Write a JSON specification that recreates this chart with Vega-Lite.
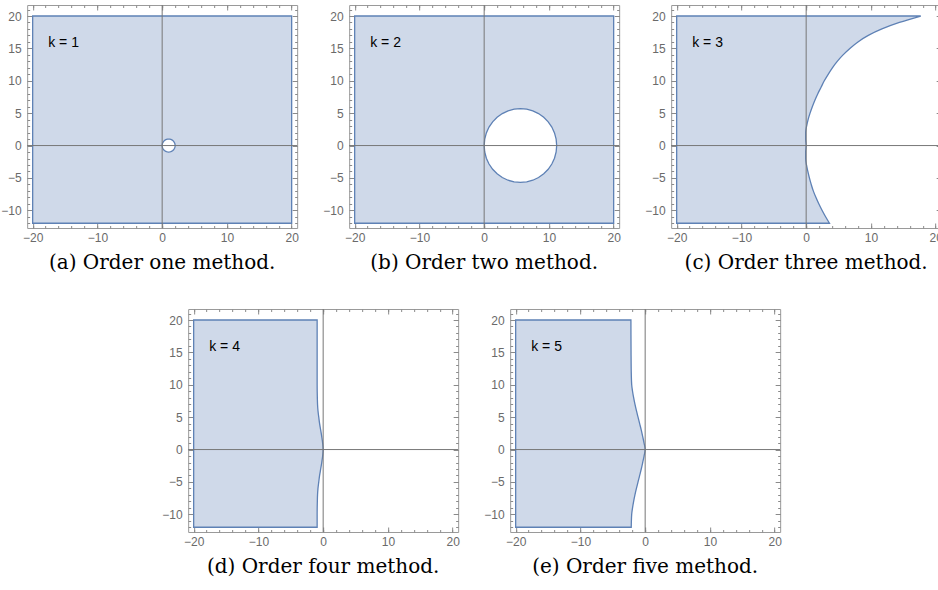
{
"$schema": "https://vega.github.io/schema/vega-lite/v6.json",
"padding": {"left": 0, "top": 4, "right": 0, "bottom": 0},
"autosize": {"type": "pad"},
"spacing": 34,
"center": true,
"datasets": {
"box": [{"x1": -20, "x2": 20, "y1": -12, "y2": 20}],
"hole1": [
{"x": 0, "yu": 0, "yl": 0},{"x": 0.0152, "yu": 0.1736, "yl": -0.1736},{"x": 0.0603, "yu": 0.342, "yl": -0.342},{"x": 0.134, "yu": 0.5, "yl": -0.5},{"x": 0.234, "yu": 0.6428, "yl": -0.6428},{"x": 0.357, "yu": 0.766, "yl": -0.766},{"x": 0.5, "yu": 0.866, "yl": -0.866},{"x": 0.658, "yu": 0.9397, "yl": -0.9397},{"x": 0.826, "yu": 0.9848, "yl": -0.9848},{"x": 1, "yu": 1, "yl": -1},{"x": 1.174, "yu": 0.9848, "yl": -0.9848},{"x": 1.342, "yu": 0.9397, "yl": -0.9397},{"x": 1.5, "yu": 0.866, "yl": -0.866},{"x": 1.643, "yu": 0.766, "yl": -0.766},{"x": 1.766, "yu": 0.6428, "yl": -0.6428},{"x": 1.866, "yu": 0.5, "yl": -0.5},{"x": 1.94, "yu": 0.342, "yl": -0.342},{"x": 1.985, "yu": 0.1736, "yl": -0.1736},{"x": 2, "yu": 0, "yl": 0}],
"hole2": [
{"x": 0, "yu": 0, "yl": 0},{"x": 0.085, "yu": 0.99, "yl": -0.99},{"x": 0.338, "yu": 1.95, "yl": -1.95},{"x": 0.75, "yu": 2.85, "yl": -2.85},{"x": 1.31, "yu": 3.664, "yl": -3.664},{"x": 2.0, "yu": 4.366, "yl": -4.366},{"x": 2.8, "yu": 4.936, "yl": -4.936},{"x": 3.685, "yu": 5.356, "yl": -5.356},{"x": 4.628, "yu": 5.613, "yl": -5.613},{"x": 5.6, "yu": 5.7, "yl": -5.7},{"x": 6.572, "yu": 5.613, "yl": -5.613},{"x": 7.515, "yu": 5.356, "yl": -5.356},{"x": 8.4, "yu": 4.936, "yl": -4.936},{"x": 9.2, "yu": 4.366, "yl": -4.366},{"x": 9.89, "yu": 3.664, "yl": -3.664},{"x": 10.45, "yu": 2.85, "yl": -2.85},{"x": 10.862, "yu": 1.95, "yl": -1.95},{"x": 11.115, "yu": 0.99, "yl": -0.99},{"x": 11.2, "yu": 0, "yl": 0}],
"b3": [
{"y": -12, "x": 3.6},{"y": -11, "x": 3.0},{"y": -10, "x": 2.45},{"y": -9, "x": 1.95},{"y": -8, "x": 1.5},{"y": -7, "x": 1.1},{"y": -6, "x": 0.78},{"y": -5, "x": 0.5},{"y": -4, "x": 0.26},{"y": -3, "x": 0.05},{"y": -2, "x": -0.08},{"y": -1, "x": -0.08},{"y": 0, "x": 0},{"y": 1, "x": -0.08},{"y": 2, "x": -0.08},{"y": 3, "x": 0.07},{"y": 4, "x": 0.3},{"y": 5, "x": 0.6},{"y": 6, "x": 0.95},{"y": 7, "x": 1.35},{"y": 8, "x": 1.8},{"y": 9, "x": 2.3},{"y": 10, "x": 2.8},{"y": 11, "x": 3.4},{"y": 12, "x": 4.05},{"y": 13, "x": 4.8},{"y": 14, "x": 5.7},{"y": 15, "x": 6.75},{"y": 16, "x": 8.0},{"y": 17, "x": 9.6},{"y": 18, "x": 11.7},{"y": 19, "x": 14.4},{"y": 20, "x": 17.7}],
"b4": [
{"y": -12, "x": -0.93},{"y": -10, "x": -0.93},{"y": -8, "x": -0.9},{"y": -7, "x": -0.87},{"y": -6, "x": -0.8},{"y": -5, "x": -0.68},{"y": -4, "x": -0.55},{"y": -3, "x": -0.38},{"y": -2, "x": -0.22},{"y": -1, "x": -0.08},{"y": 0, "x": 0},{"y": 1, "x": -0.08},{"y": 2, "x": -0.22},{"y": 3, "x": -0.38},{"y": 4, "x": -0.55},{"y": 5, "x": -0.68},{"y": 6, "x": -0.8},{"y": 7, "x": -0.87},{"y": 8, "x": -0.9},{"y": 10, "x": -0.93},{"y": 15, "x": -0.93},{"y": 20, "x": -0.93}],
"b5": [
{"y": -12, "x": -2.15},{"y": -10, "x": -2.08},{"y": -9, "x": -1.95},{"y": -8, "x": -1.78},{"y": -7, "x": -1.58},{"y": -6, "x": -1.35},{"y": -5, "x": -1.1},{"y": -4, "x": -0.85},{"y": -3, "x": -0.6},{"y": -2, "x": -0.38},{"y": -1, "x": -0.17},{"y": 0, "x": 0},{"y": 1, "x": -0.17},{"y": 2, "x": -0.38},{"y": 3, "x": -0.6},{"y": 4, "x": -0.85},{"y": 5, "x": -1.1},{"y": 6, "x": -1.35},{"y": 7, "x": -1.58},{"y": 8, "x": -1.78},{"y": 9, "x": -1.95},{"y": 10, "x": -2.08},{"y": 12, "x": -2.15},{"y": 15, "x": -2.18},{"y": 20, "x": -2.2}]
},
"vconcat": [
{"hconcat": [
{"width": 270, "height": 223, "title": {"text": "(a) Order one method."},
 "resolve": {"axis": {"x": "independent", "y": "independent"}},
 "layer": [
  {"data": {"name": "box"}, "mark": {"type": "rect", "fill": "#CFD9E9", "stroke": "#5E81B5", "strokeWidth": 1.3},
   "encoding": {"x": {"field": "x1", "type": "quantitative", "scale": {"domain": [-20.85, 20.85], "nice": false, "zero": false}, "axis": {"orient": "bottom", "values": [-20, -10, 0, 10, 20], "tickSize": -5, "labelPadding": 9, "title": null, "grid": false, "domain": false, "labelFlush": false, "labelOverlap": false}}, "x2": {"field": "x2"},
    "y": {"field": "y1", "type": "quantitative", "scale": {"domain": [-12.73, 21.7], "nice": false, "zero": false}, "axis": {"orient": "left", "values": [-10, -5, 0, 5, 10, 15, 20], "tickSize": -5, "labelPadding": 11, "title": null, "grid": false, "domain": false, "labelFlush": false, "labelOverlap": false}}, "y2": {"field": "y2"}}},
  {"data": {"name": "hole1"}, "mark": {"type": "area", "orient": "vertical", "fill": "white", "opacity": 1, "stroke": "#5E81B5", "strokeWidth": 1.3},
   "encoding": {"x": {"field": "x", "type": "quantitative", "scale": {"domain": [-20.85, 20.85], "nice": false, "zero": false}, "axis": null}, "y": {"field": "yu", "type": "quantitative", "scale": {"domain": [-12.73, 21.7], "nice": false, "zero": false}, "axis": null}, "y2": {"field": "yl"}}},
  {"data": {"name": "box"}, "mark": {"type": "text", "text": "k = 1", "align": "left", "baseline": "middle", "font": "Liberation Sans", "fontSize": 14, "color": "#000"},
   "encoding": {"x": {"datum": -17.6, "type": "quantitative", "scale": {"domain": [-20.85, 20.85], "nice": false, "zero": false}, "axis": null}, "y": {"datum": 15.9, "type": "quantitative", "scale": {"domain": [-12.73, 21.7], "nice": false, "zero": false}, "axis": null}}},
  {"data": {"name": "box"}, "mark": {"type": "rule", "color": "#777", "strokeWidth": 1},
   "encoding": {"x": {"datum": 0, "type": "quantitative", "scale": {"domain": [-20.85, 20.85], "nice": false, "zero": false}, "axis": {"orient": "top", "values": [-20, -10, 0, 10, 20], "tickSize": -5, "labels": false, "title": null, "grid": false, "domain": false}}}},
  {"data": {"name": "box"}, "mark": {"type": "rule", "color": "#777", "strokeWidth": 1},
   "encoding": {"y": {"datum": 0, "type": "quantitative", "scale": {"domain": [-12.73, 21.7], "nice": false, "zero": false}, "axis": {"orient": "right", "values": [-10, -5, 0, 5, 10, 15, 20], "tickSize": -5, "labels": false, "title": null, "grid": false, "domain": false}}}},
  {"data": {"name": "box"}, "mark": {"type": "point", "opacity": 0},
   "encoding": {"x": {"field": "x1", "type": "quantitative", "scale": {"domain": [-20.85, 20.85], "nice": false, "zero": false}, "axis": {"orient": "bottom", "values": [-20,-18,-16,-14,-12,-10,-8,-6,-4,-2,0,2,4,6,8,10,12,14,16,18,20], "tickSize": -2.5, "labels": false, "title": null, "grid": false, "domain": false}},
    "y": {"field": "y1", "type": "quantitative", "scale": {"domain": [-12.73, 21.7], "nice": false, "zero": false}, "axis": {"orient": "left", "values": [-12,-11,-10,-9,-8,-7,-6,-5,-4,-3,-2,-1,0,1,2,3,4,5,6,7,8,9,10,11,12,13,14,15,16,17,18,19,20,21], "tickSize": -2.5, "labels": false, "title": null, "grid": false, "domain": false}}}},
  {"data": {"name": "box"}, "mark": {"type": "point", "opacity": 0},
   "encoding": {"x": {"field": "x1", "type": "quantitative", "scale": {"domain": [-20.85, 20.85], "nice": false, "zero": false}, "axis": {"orient": "top", "values": [-20,-18,-16,-14,-12,-10,-8,-6,-4,-2,0,2,4,6,8,10,12,14,16,18,20], "tickSize": -2.5, "labels": false, "title": null, "grid": false, "domain": false}},
    "y": {"field": "y1", "type": "quantitative", "scale": {"domain": [-12.73, 21.7], "nice": false, "zero": false}, "axis": {"orient": "right", "values": [-12,-11,-10,-9,-8,-7,-6,-5,-4,-3,-2,-1,0,1,2,3,4,5,6,7,8,9,10,11,12,13,14,15,16,17,18,19,20,21], "tickSize": -2.5, "labels": false, "title": null, "grid": false, "domain": false}}}}
 ]},
{"width": 270, "height": 223, "title": {"text": "(b) Order two method."},
 "resolve": {"axis": {"x": "independent", "y": "independent"}},
 "layer": [
  {"data": {"name": "box"}, "mark": {"type": "rect", "fill": "#CFD9E9", "stroke": "#5E81B5", "strokeWidth": 1.3},
   "encoding": {"x": {"field": "x1", "type": "quantitative", "scale": {"domain": [-20.85, 20.85], "nice": false, "zero": false}, "axis": {"orient": "bottom", "values": [-20, -10, 0, 10, 20], "tickSize": -5, "labelPadding": 9, "title": null, "grid": false, "domain": false, "labelFlush": false, "labelOverlap": false}}, "x2": {"field": "x2"},
    "y": {"field": "y1", "type": "quantitative", "scale": {"domain": [-12.73, 21.7], "nice": false, "zero": false}, "axis": {"orient": "left", "values": [-10, -5, 0, 5, 10, 15, 20], "tickSize": -5, "labelPadding": 11, "title": null, "grid": false, "domain": false, "labelFlush": false, "labelOverlap": false}}, "y2": {"field": "y2"}}},
  {"data": {"name": "hole2"}, "mark": {"type": "area", "orient": "vertical", "fill": "white", "opacity": 1, "stroke": "#5E81B5", "strokeWidth": 1.3},
   "encoding": {"x": {"field": "x", "type": "quantitative", "scale": {"domain": [-20.85, 20.85], "nice": false, "zero": false}, "axis": null}, "y": {"field": "yu", "type": "quantitative", "scale": {"domain": [-12.73, 21.7], "nice": false, "zero": false}, "axis": null}, "y2": {"field": "yl"}}},
  {"data": {"name": "box"}, "mark": {"type": "text", "text": "k = 2", "align": "left", "baseline": "middle", "font": "Liberation Sans", "fontSize": 14, "color": "#000"},
   "encoding": {"x": {"datum": -17.6, "type": "quantitative", "scale": {"domain": [-20.85, 20.85], "nice": false, "zero": false}, "axis": null}, "y": {"datum": 15.9, "type": "quantitative", "scale": {"domain": [-12.73, 21.7], "nice": false, "zero": false}, "axis": null}}},
  {"data": {"name": "box"}, "mark": {"type": "rule", "color": "#777", "strokeWidth": 1},
   "encoding": {"x": {"datum": 0, "type": "quantitative", "scale": {"domain": [-20.85, 20.85], "nice": false, "zero": false}, "axis": {"orient": "top", "values": [-20, -10, 0, 10, 20], "tickSize": -5, "labels": false, "title": null, "grid": false, "domain": false}}}},
  {"data": {"name": "box"}, "mark": {"type": "rule", "color": "#777", "strokeWidth": 1},
   "encoding": {"y": {"datum": 0, "type": "quantitative", "scale": {"domain": [-12.73, 21.7], "nice": false, "zero": false}, "axis": {"orient": "right", "values": [-10, -5, 0, 5, 10, 15, 20], "tickSize": -5, "labels": false, "title": null, "grid": false, "domain": false}}}},
  {"data": {"name": "box"}, "mark": {"type": "point", "opacity": 0},
   "encoding": {"x": {"field": "x1", "type": "quantitative", "scale": {"domain": [-20.85, 20.85], "nice": false, "zero": false}, "axis": {"orient": "bottom", "values": [-20,-18,-16,-14,-12,-10,-8,-6,-4,-2,0,2,4,6,8,10,12,14,16,18,20], "tickSize": -2.5, "labels": false, "title": null, "grid": false, "domain": false}},
    "y": {"field": "y1", "type": "quantitative", "scale": {"domain": [-12.73, 21.7], "nice": false, "zero": false}, "axis": {"orient": "left", "values": [-12,-11,-10,-9,-8,-7,-6,-5,-4,-3,-2,-1,0,1,2,3,4,5,6,7,8,9,10,11,12,13,14,15,16,17,18,19,20,21], "tickSize": -2.5, "labels": false, "title": null, "grid": false, "domain": false}}}},
  {"data": {"name": "box"}, "mark": {"type": "point", "opacity": 0},
   "encoding": {"x": {"field": "x1", "type": "quantitative", "scale": {"domain": [-20.85, 20.85], "nice": false, "zero": false}, "axis": {"orient": "top", "values": [-20,-18,-16,-14,-12,-10,-8,-6,-4,-2,0,2,4,6,8,10,12,14,16,18,20], "tickSize": -2.5, "labels": false, "title": null, "grid": false, "domain": false}},
    "y": {"field": "y1", "type": "quantitative", "scale": {"domain": [-12.73, 21.7], "nice": false, "zero": false}, "axis": {"orient": "right", "values": [-12,-11,-10,-9,-8,-7,-6,-5,-4,-3,-2,-1,0,1,2,3,4,5,6,7,8,9,10,11,12,13,14,15,16,17,18,19,20,21], "tickSize": -2.5, "labels": false, "title": null, "grid": false, "domain": false}}}}
 ]},
{"width": 270, "height": 223, "title": {"text": "(c) Order three method."},
 "resolve": {"axis": {"x": "independent", "y": "independent"}},
 "layer": [
  {"data": {"name": "b3"}, "mark": {"type": "area", "orient": "horizontal", "interpolate": "monotone", "fill": "#CFD9E9", "opacity": 1, "stroke": "#5E81B5", "strokeWidth": 1.3},
   "encoding": {"x": {"field": "x", "type": "quantitative", "stack": null, "scale": {"domain": [-20.85, 20.85], "nice": false, "zero": false}, "axis": {"orient": "bottom", "values": [-20, -10, 0, 10, 20], "tickSize": -5, "labelPadding": 9, "title": null, "grid": false, "domain": false, "labelFlush": false, "labelOverlap": false}}, "x2": {"datum": -20},
    "y": {"field": "y", "type": "quantitative", "scale": {"domain": [-12.73, 21.7], "nice": false, "zero": false}, "axis": {"orient": "left", "values": [-10, -5, 0, 5, 10, 15, 20], "tickSize": -5, "labelPadding": 11, "title": null, "grid": false, "domain": false, "labelFlush": false, "labelOverlap": false}}}},
  {"data": {"name": "box"}, "mark": {"type": "text", "text": "k = 3", "align": "left", "baseline": "middle", "font": "Liberation Sans", "fontSize": 14, "color": "#000"},
   "encoding": {"x": {"datum": -17.6, "type": "quantitative", "scale": {"domain": [-20.85, 20.85], "nice": false, "zero": false}, "axis": null}, "y": {"datum": 15.9, "type": "quantitative", "scale": {"domain": [-12.73, 21.7], "nice": false, "zero": false}, "axis": null}}},
  {"data": {"name": "box"}, "mark": {"type": "rule", "color": "#777", "strokeWidth": 1},
   "encoding": {"x": {"datum": 0, "type": "quantitative", "scale": {"domain": [-20.85, 20.85], "nice": false, "zero": false}, "axis": {"orient": "top", "values": [-20, -10, 0, 10, 20], "tickSize": -5, "labels": false, "title": null, "grid": false, "domain": false}}}},
  {"data": {"name": "box"}, "mark": {"type": "rule", "color": "#777", "strokeWidth": 1},
   "encoding": {"y": {"datum": 0, "type": "quantitative", "scale": {"domain": [-12.73, 21.7], "nice": false, "zero": false}, "axis": {"orient": "right", "values": [-10, -5, 0, 5, 10, 15, 20], "tickSize": -5, "labels": false, "title": null, "grid": false, "domain": false}}}},
  {"data": {"name": "box"}, "mark": {"type": "point", "opacity": 0},
   "encoding": {"x": {"field": "x1", "type": "quantitative", "scale": {"domain": [-20.85, 20.85], "nice": false, "zero": false}, "axis": {"orient": "bottom", "values": [-20,-18,-16,-14,-12,-10,-8,-6,-4,-2,0,2,4,6,8,10,12,14,16,18,20], "tickSize": -2.5, "labels": false, "title": null, "grid": false, "domain": false}},
    "y": {"field": "y1", "type": "quantitative", "scale": {"domain": [-12.73, 21.7], "nice": false, "zero": false}, "axis": {"orient": "left", "values": [-12,-11,-10,-9,-8,-7,-6,-5,-4,-3,-2,-1,0,1,2,3,4,5,6,7,8,9,10,11,12,13,14,15,16,17,18,19,20,21], "tickSize": -2.5, "labels": false, "title": null, "grid": false, "domain": false}}}},
  {"data": {"name": "box"}, "mark": {"type": "point", "opacity": 0},
   "encoding": {"x": {"field": "x1", "type": "quantitative", "scale": {"domain": [-20.85, 20.85], "nice": false, "zero": false}, "axis": {"orient": "top", "values": [-20,-18,-16,-14,-12,-10,-8,-6,-4,-2,0,2,4,6,8,10,12,14,16,18,20], "tickSize": -2.5, "labels": false, "title": null, "grid": false, "domain": false}},
    "y": {"field": "y1", "type": "quantitative", "scale": {"domain": [-12.73, 21.7], "nice": false, "zero": false}, "axis": {"orient": "right", "values": [-12,-11,-10,-9,-8,-7,-6,-5,-4,-3,-2,-1,0,1,2,3,4,5,6,7,8,9,10,11,12,13,14,15,16,17,18,19,20,21], "tickSize": -2.5, "labels": false, "title": null, "grid": false, "domain": false}}}}
 ]}
], "spacing": 52, "bounds": "flush"},
{"hconcat": [
{"width": 270, "height": 223, "title": {"text": "(d) Order four method."},
 "resolve": {"axis": {"x": "independent", "y": "independent"}},
 "layer": [
  {"data": {"name": "b4"}, "mark": {"type": "area", "orient": "horizontal", "interpolate": "monotone", "fill": "#CFD9E9", "opacity": 1, "stroke": "#5E81B5", "strokeWidth": 1.3},
   "encoding": {"x": {"field": "x", "type": "quantitative", "stack": null, "scale": {"domain": [-20.85, 20.85], "nice": false, "zero": false}, "axis": {"orient": "bottom", "values": [-20, -10, 0, 10, 20], "tickSize": -5, "labelPadding": 9, "title": null, "grid": false, "domain": false, "labelFlush": false, "labelOverlap": false}}, "x2": {"datum": -20},
    "y": {"field": "y", "type": "quantitative", "scale": {"domain": [-12.73, 21.7], "nice": false, "zero": false}, "axis": {"orient": "left", "values": [-10, -5, 0, 5, 10, 15, 20], "tickSize": -5, "labelPadding": 11, "title": null, "grid": false, "domain": false, "labelFlush": false, "labelOverlap": false}}}},
  {"data": {"name": "box"}, "mark": {"type": "text", "text": "k = 4", "align": "left", "baseline": "middle", "font": "Liberation Sans", "fontSize": 14, "color": "#000"},
   "encoding": {"x": {"datum": -17.6, "type": "quantitative", "scale": {"domain": [-20.85, 20.85], "nice": false, "zero": false}, "axis": null}, "y": {"datum": 15.9, "type": "quantitative", "scale": {"domain": [-12.73, 21.7], "nice": false, "zero": false}, "axis": null}}},
  {"data": {"name": "box"}, "mark": {"type": "rule", "color": "#777", "strokeWidth": 1},
   "encoding": {"x": {"datum": 0, "type": "quantitative", "scale": {"domain": [-20.85, 20.85], "nice": false, "zero": false}, "axis": {"orient": "top", "values": [-20, -10, 0, 10, 20], "tickSize": -5, "labels": false, "title": null, "grid": false, "domain": false}}}},
  {"data": {"name": "box"}, "mark": {"type": "rule", "color": "#777", "strokeWidth": 1},
   "encoding": {"y": {"datum": 0, "type": "quantitative", "scale": {"domain": [-12.73, 21.7], "nice": false, "zero": false}, "axis": {"orient": "right", "values": [-10, -5, 0, 5, 10, 15, 20], "tickSize": -5, "labels": false, "title": null, "grid": false, "domain": false}}}},
  {"data": {"name": "box"}, "mark": {"type": "point", "opacity": 0},
   "encoding": {"x": {"field": "x1", "type": "quantitative", "scale": {"domain": [-20.85, 20.85], "nice": false, "zero": false}, "axis": {"orient": "bottom", "values": [-20,-18,-16,-14,-12,-10,-8,-6,-4,-2,0,2,4,6,8,10,12,14,16,18,20], "tickSize": -2.5, "labels": false, "title": null, "grid": false, "domain": false}},
    "y": {"field": "y1", "type": "quantitative", "scale": {"domain": [-12.73, 21.7], "nice": false, "zero": false}, "axis": {"orient": "left", "values": [-12,-11,-10,-9,-8,-7,-6,-5,-4,-3,-2,-1,0,1,2,3,4,5,6,7,8,9,10,11,12,13,14,15,16,17,18,19,20,21], "tickSize": -2.5, "labels": false, "title": null, "grid": false, "domain": false}}}},
  {"data": {"name": "box"}, "mark": {"type": "point", "opacity": 0},
   "encoding": {"x": {"field": "x1", "type": "quantitative", "scale": {"domain": [-20.85, 20.85], "nice": false, "zero": false}, "axis": {"orient": "top", "values": [-20,-18,-16,-14,-12,-10,-8,-6,-4,-2,0,2,4,6,8,10,12,14,16,18,20], "tickSize": -2.5, "labels": false, "title": null, "grid": false, "domain": false}},
    "y": {"field": "y1", "type": "quantitative", "scale": {"domain": [-12.73, 21.7], "nice": false, "zero": false}, "axis": {"orient": "right", "values": [-12,-11,-10,-9,-8,-7,-6,-5,-4,-3,-2,-1,0,1,2,3,4,5,6,7,8,9,10,11,12,13,14,15,16,17,18,19,20,21], "tickSize": -2.5, "labels": false, "title": null, "grid": false, "domain": false}}}}
 ]},
{"width": 270, "height": 223, "title": {"text": "(e) Order five method."},
 "resolve": {"axis": {"x": "independent", "y": "independent"}},
 "layer": [
  {"data": {"name": "b5"}, "mark": {"type": "area", "orient": "horizontal", "interpolate": "monotone", "fill": "#CFD9E9", "opacity": 1, "stroke": "#5E81B5", "strokeWidth": 1.3},
   "encoding": {"x": {"field": "x", "type": "quantitative", "stack": null, "scale": {"domain": [-20.85, 20.85], "nice": false, "zero": false}, "axis": {"orient": "bottom", "values": [-20, -10, 0, 10, 20], "tickSize": -5, "labelPadding": 9, "title": null, "grid": false, "domain": false, "labelFlush": false, "labelOverlap": false}}, "x2": {"datum": -20},
    "y": {"field": "y", "type": "quantitative", "scale": {"domain": [-12.73, 21.7], "nice": false, "zero": false}, "axis": {"orient": "left", "values": [-10, -5, 0, 5, 10, 15, 20], "tickSize": -5, "labelPadding": 11, "title": null, "grid": false, "domain": false, "labelFlush": false, "labelOverlap": false}}}},
  {"data": {"name": "box"}, "mark": {"type": "text", "text": "k = 5", "align": "left", "baseline": "middle", "font": "Liberation Sans", "fontSize": 14, "color": "#000"},
   "encoding": {"x": {"datum": -17.6, "type": "quantitative", "scale": {"domain": [-20.85, 20.85], "nice": false, "zero": false}, "axis": null}, "y": {"datum": 15.9, "type": "quantitative", "scale": {"domain": [-12.73, 21.7], "nice": false, "zero": false}, "axis": null}}},
  {"data": {"name": "box"}, "mark": {"type": "rule", "color": "#777", "strokeWidth": 1},
   "encoding": {"x": {"datum": 0, "type": "quantitative", "scale": {"domain": [-20.85, 20.85], "nice": false, "zero": false}, "axis": {"orient": "top", "values": [-20, -10, 0, 10, 20], "tickSize": -5, "labels": false, "title": null, "grid": false, "domain": false}}}},
  {"data": {"name": "box"}, "mark": {"type": "rule", "color": "#777", "strokeWidth": 1},
   "encoding": {"y": {"datum": 0, "type": "quantitative", "scale": {"domain": [-12.73, 21.7], "nice": false, "zero": false}, "axis": {"orient": "right", "values": [-10, -5, 0, 5, 10, 15, 20], "tickSize": -5, "labels": false, "title": null, "grid": false, "domain": false}}}},
  {"data": {"name": "box"}, "mark": {"type": "point", "opacity": 0},
   "encoding": {"x": {"field": "x1", "type": "quantitative", "scale": {"domain": [-20.85, 20.85], "nice": false, "zero": false}, "axis": {"orient": "bottom", "values": [-20,-18,-16,-14,-12,-10,-8,-6,-4,-2,0,2,4,6,8,10,12,14,16,18,20], "tickSize": -2.5, "labels": false, "title": null, "grid": false, "domain": false}},
    "y": {"field": "y1", "type": "quantitative", "scale": {"domain": [-12.73, 21.7], "nice": false, "zero": false}, "axis": {"orient": "left", "values": [-12,-11,-10,-9,-8,-7,-6,-5,-4,-3,-2,-1,0,1,2,3,4,5,6,7,8,9,10,11,12,13,14,15,16,17,18,19,20,21], "tickSize": -2.5, "labels": false, "title": null, "grid": false, "domain": false}}}},
  {"data": {"name": "box"}, "mark": {"type": "point", "opacity": 0},
   "encoding": {"x": {"field": "x1", "type": "quantitative", "scale": {"domain": [-20.85, 20.85], "nice": false, "zero": false}, "axis": {"orient": "top", "values": [-20,-18,-16,-14,-12,-10,-8,-6,-4,-2,0,2,4,6,8,10,12,14,16,18,20], "tickSize": -2.5, "labels": false, "title": null, "grid": false, "domain": false}},
    "y": {"field": "y1", "type": "quantitative", "scale": {"domain": [-12.73, 21.7], "nice": false, "zero": false}, "axis": {"orient": "right", "values": [-12,-11,-10,-9,-8,-7,-6,-5,-4,-3,-2,-1,0,1,2,3,4,5,6,7,8,9,10,11,12,13,14,15,16,17,18,19,20,21], "tickSize": -2.5, "labels": false, "title": null, "grid": false, "domain": false}}}}
 ]}
], "spacing": 52, "bounds": "flush"}
],
"config": {
 "view": {"stroke": "#9a9a9a", "strokeWidth": 1},
 "axis": {"tickColor": "#8a8a8a", "tickWidth": 1, "labelFont": "Liberation Sans", "labelFontSize": 12, "labelColor": "#6a6a6a", "minExtent": 0},
 "axisY": {"minExtent": 0},
 "axisX": {"minExtent": 0},
 "title": {"font": "DejaVu Serif", "fontSize": 20, "fontWeight": "normal", "color": "#000", "orient": "bottom", "offset": 10}
}
}
